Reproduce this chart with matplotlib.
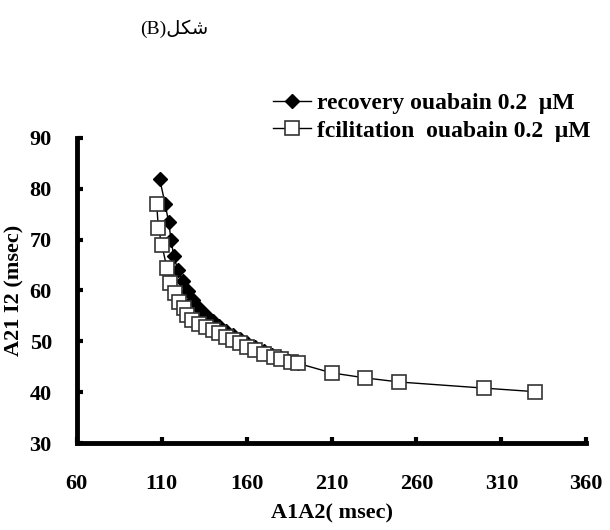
import matplotlib.pyplot as plt

# recovery series (filled diamonds)
rec_x = [108.7, 112, 114, 115.5, 117, 119.5, 122.5, 125.5, 128.5, 132, 136, 140,
         144, 148, 152, 156, 160, 165, 170, 175, 180, 185, 190]
rec_y = [82, 77, 73.5, 70, 66.8, 64, 61.8, 59.8, 58.1, 56.5, 55.2, 54,
         53, 52, 51.2, 50.4, 49.6, 48.8, 48, 47.3, 46.7, 46.2, 45.8]

# facilitation series (open squares)
fac_x = [107, 108, 110, 113, 115, 118, 120, 123, 125, 128, 132, 136, 140, 144,
         148, 152, 156, 160, 165, 170, 176, 180, 186, 190, 210, 230, 250, 300, 330]
fac_y = [77, 72.3, 69, 64.5, 61.5, 59.5, 57.8, 56.5, 55.2, 54.2, 53.4, 52.9, 52.2, 51.6,
         50.9, 50.3, 49.7, 48.8, 48.3, 47.5, 47, 46.5, 46, 45.7, 43.8, 42.8, 42, 40.8, 40.1]

x_ticks = [60, 110, 160, 210, 260, 310, 360]
y_ticks = [30, 40, 50, 60, 70, 80, 90]

plt.rcParams['font.family'] = ['Liberation Serif', 'DejaVu Sans']

fig = plt.figure(figsize=(6.1, 5.3), dpi=100)
ax = fig.add_axes([0.126, 0.164, 0.835, 0.576])

ax.plot(rec_x, rec_y, color='black', lw=1, marker='D', markersize=7,
        markerfacecolor='black', markeredgecolor='black',
        label='recovery ouabain 0.2  \u03bcM', zorder=2)
ax.plot(fac_x, fac_y, color='black', lw=1, marker='s', markersize=10.5,
        markerfacecolor='white', markeredgecolor='#333333', markeredgewidth=1.2,
        label='fcilitation  ouabain 0.2  \u03bcM', zorder=3)

ax.set_xlim(60, 360)
ax.set_ylim(30, 90)
ax.set_xticks(x_ticks)
ax.set_yticks(y_ticks)
for s in ['top', 'right']:
    ax.spines[s].set_visible(False)
for s in ['left', 'bottom']:
    ax.spines[s].set_linewidth(3.5)
ax.tick_params(direction='in', length=4, width=3, labelsize=16)
ax.tick_params(axis='x', pad=22)
ax.tick_params(axis='y', pad=18)
for lab in ax.get_xticklabels() + ax.get_yticklabels():
    lab.set_fontweight('bold')

ax.set_xlabel('A1A2( msec)', fontsize=16, fontweight='bold', labelpad=7)
ax.set_ylabel('A21 I2 (msec)', fontsize=16, fontweight='bold', labelpad=4)

ax.legend(loc='upper left', bbox_to_anchor=(0.448, 0.825),
          bbox_transform=fig.transFigure, frameon=False,
          handlelength=1.6, handletextpad=0.25, labelspacing=0.25,
          borderaxespad=0, borderpad=0, prop={'weight': 'bold', 'size': 17})

fig.text(0.23, 0.945, '(B)\ufede\ufb91\ufeb7', fontsize=14, ha='left', va='center')

fig.savefig('out.png', dpi=100)
